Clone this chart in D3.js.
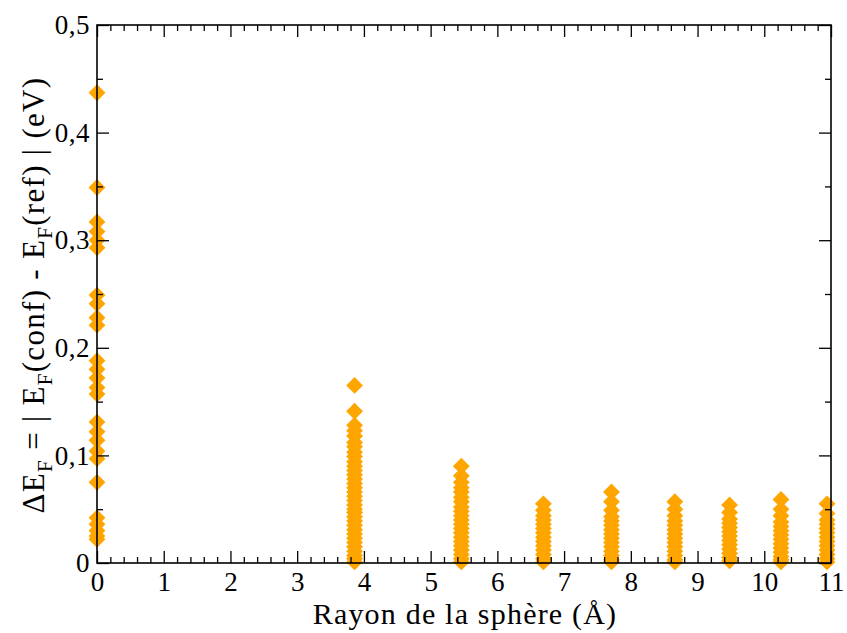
<!DOCTYPE html>
<html>
<head>
<meta charset="utf-8">
<script src="https://cdn.jsdelivr.net/npm/d3@7"></script>
<style>
  html, body { margin: 0; padding: 0; background: #fff; }
  svg { display: block; }
</style>
</head>
<body>
<div id="chart"></div>
<script>
// ---- Data ----
const xTicks = [0, 1, 2, 3, 4, 5, 6, 7, 8, 9, 10, 11];
const yTicks = [0, 0.1, 0.2, 0.3, 0.4, 0.5];
const yTickLabels = ["0", "0,1", "0,2", "0,3", "0,4", "0,5"];

// shell radii (Å) of the sphere
const radii = [0, 3.86, 5.46, 6.69, 7.71, 8.66, 9.48, 10.25, 10.94];

// ΔE_F values (eV) for each shell
const shell0 = [0.437, 0.349, 0.317, 0.308, 0.300, 0.293, 0.249, 0.241, 0.228, 0.221,
                0.188, 0.180, 0.172, 0.163, 0.157, 0.131, 0.122, 0.114, 0.104, 0.097,
                0.075, 0.042, 0.036, 0.030, 0.025, 0.022];
const shell1 = [0.165, 0.141, 0.128, 0.123, 0.118, 0.112, 0.108, 0.103, 0.099, 0.094,
                0.090, 0.086, 0.082, 0.078, 0.074, 0.070, 0.066, 0.062, 0.058, 0.054,
                0.050, 0.047, 0.043, 0.039, 0.035, 0.031, 0.027, 0.023, 0.019, 0.015,
                0.011, 0.007, 0.004, 0.001];
const shell2 = [0.090, 0.081, 0.075, 0.070, 0.066, 0.061, 0.057, 0.052, 0.048, 0.044,
                0.040, 0.036, 0.032, 0.028, 0.024, 0.020, 0.016, 0.012, 0.008, 0.004, 0.001];
const shell3 = [0.055, 0.049, 0.044, 0.040, 0.036, 0.032, 0.028, 0.024, 0.020, 0.016,
                0.012, 0.008, 0.004, 0.001];
const shell4 = [0.066, 0.057, 0.049, 0.043, 0.039, 0.035, 0.031, 0.027, 0.023, 0.019,
                0.015, 0.011, 0.007, 0.003, 0.001];
const shell5 = [0.057, 0.050, 0.044, 0.039, 0.035, 0.031, 0.027, 0.023, 0.019, 0.015,
                0.011, 0.007, 0.003, 0.001];
const shell6 = [0.054, 0.047, 0.041, 0.037, 0.033, 0.029, 0.025, 0.021, 0.017, 0.013,
                0.009, 0.005, 0.002];
const shell7 = [0.059, 0.050, 0.044, 0.038, 0.034, 0.030, 0.026, 0.022, 0.018, 0.014,
                0.010, 0.006, 0.003, 0.001];
const shell8 = [0.055, 0.046, 0.040, 0.036, 0.032, 0.028, 0.024, 0.020, 0.016, 0.012,
                0.008, 0.004, 0.001];
const shells = [shell0, shell1, shell2, shell3, shell4, shell5, shell6, shell7, shell8];

// ---- Layout ----
const FONT = "'Liberation Serif', 'Times New Roman', Times, 'DejaVu Serif', serif";
const W = 847, H = 633;
const m = { left: 97, right: 16, top: 25, bottom: 70 };
const iw = W - m.left - m.right, ih = H - m.top - m.bottom;

const svg = d3.select("#chart").append("svg").attr("width", W).attr("height", H)
  .attr("font-family", FONT);
const g = svg.append("g").attr("transform", `translate(${m.left},${m.top})`);

const x = d3.scaleLinear().domain([0, 11]).range([0, iw]);
const y = d3.scaleLinear().domain([0, 0.5]).range([ih, 0]);

const xMinor = d3.range(0, 11.0001, 0.2).filter(v => Math.abs(v - Math.round(v)) > 1e-6);
const yMinor = d3.range(0.05, 0.5, 0.1);

// ---- Points ----
const points = [];
shells.forEach((arr, i) => arr.forEach(v => points.push({ r: radii[i], v })));
const diamond = d3.symbol().type(d3.symbolDiamond2).size(2 * 9.5 * 9.5);
g.append("g").selectAll("path").data(points).join("path")
  .attr("d", diamond)
  .attr("transform", d => `translate(${x(d.r)},${y(d.v)})`)
  .attr("fill", "#FFA500");

// ---- Axes (ticks inside on all four sides) ----
const majLen = 12, minLen = 6;
function styleAxis(sel) {
  sel.attr("font-family", FONT);
  sel.select(".domain").remove();
  sel.selectAll("line").attr("stroke", "#000").attr("stroke-width", 1.3);
  sel.selectAll("text").attr("font-family", FONT).attr("fill", "#000");
}
// bottom
g.append("g").attr("transform", `translate(0,${ih})`)
  .call(d3.axisBottom(x).tickValues(xTicks).tickSize(-majLen).tickPadding(5).tickFormat(d3.format("d")))
  .call(styleAxis)
  .call(s => s.selectAll("text").attr("font-size", 27).attr("dy", "0.85em"));
g.append("g").attr("transform", `translate(0,${ih})`)
  .call(d3.axisBottom(x).tickValues(xMinor).tickSize(-minLen).tickFormat(""))
  .call(styleAxis);
// top
g.append("g")
  .call(d3.axisTop(x).tickValues(xTicks).tickSize(-majLen).tickFormat(""))
  .call(styleAxis);
g.append("g")
  .call(d3.axisTop(x).tickValues(xMinor).tickSize(-minLen).tickFormat(""))
  .call(styleAxis);
// left
g.append("g")
  .call(d3.axisLeft(y).tickValues(yTicks).tickSize(-majLen).tickPadding(7)
    .tickFormat((d, i) => yTickLabels[i]))
  .call(styleAxis)
  .call(s => s.selectAll("text").attr("font-size", 27).attr("letter-spacing", 0.5));
g.append("g")
  .call(d3.axisLeft(y).tickValues(yMinor).tickSize(-minLen).tickFormat(""))
  .call(styleAxis);
// right
g.append("g").attr("transform", `translate(${iw},0)`)
  .call(d3.axisRight(y).tickValues(yTicks).tickSize(-majLen).tickFormat(""))
  .call(styleAxis);
g.append("g").attr("transform", `translate(${iw},0)`)
  .call(d3.axisRight(y).tickValues(yMinor).tickSize(-minLen).tickFormat(""))
  .call(styleAxis);

// frame
g.append("rect").attr("x", 0).attr("y", 0).attr("width", iw).attr("height", ih)
  .attr("fill", "none").attr("stroke", "#000").attr("stroke-width", 1.6);

// ---- Axis titles ----
svg.append("text")
  .attr("x", 465).attr("y", 624)
  .attr("text-anchor", "middle").attr("font-size", 30).attr("font-family", FONT)
  .attr("letter-spacing", 1.2)
  .text("Rayon de la sphère (Å)");

const yt = svg.append("text")
  .attr("transform", `translate(44,295) rotate(-90)`)
  .attr("text-anchor", "middle").attr("font-size", 31).attr("font-family", FONT)
  .attr("letter-spacing", 1.3);
yt.append("tspan").text("ΔE");
yt.append("tspan").attr("font-size", 21).attr("dy", 8).text("F");
yt.append("tspan").attr("dy", -8).text(" = | E");
yt.append("tspan").attr("font-size", 21).attr("dy", 8).text("F");
yt.append("tspan").attr("dy", -8).text("(conf) - E");
yt.append("tspan").attr("font-size", 21).attr("dy", 8).text("F");
yt.append("tspan").attr("dy", -8).text("(ref) | (eV)");
</script>
</body>
</html>
